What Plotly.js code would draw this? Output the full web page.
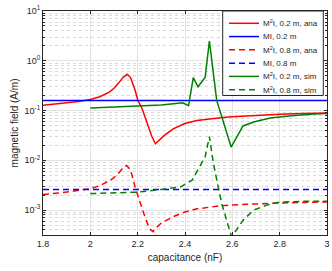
<!DOCTYPE html>
<html>
<head>
<meta charset="utf-8">
<script src="https://cdn.plot.ly/plotly-3.0.1.min.js"></script>
<style>
html,body{margin:0;padding:0;background:#fff;}
#chart{width:332px;height:271px;}
</style>
</head>
<body>
<div id="chart"></div>
<script>
// ---- data ----
const redSolidX = [1.8, 1.85, 1.9, 1.95, 2.0, 2.04, 2.08, 2.1, 2.12, 2.14, 2.156, 2.17, 2.19, 2.2, 2.22, 2.24, 2.26, 2.275, 2.29, 2.31, 2.35, 2.4, 2.45, 2.5, 2.55, 2.6, 2.7, 2.8, 2.9, 3.0];
const redSolidY = [0.128, 0.134, 0.142, 0.152, 0.167, 0.19, 0.235, 0.28, 0.36, 0.47, 0.535, 0.46, 0.25, 0.165, 0.105, 0.058, 0.03, 0.0215, 0.025, 0.031, 0.043, 0.055, 0.063, 0.068, 0.072, 0.075, 0.080, 0.084, 0.087, 0.089];

const redDashX = [1.8, 1.9, 2.0, 2.04, 2.08, 2.1, 2.12, 2.14, 2.153, 2.17, 2.19, 2.21, 2.23, 2.25, 2.265, 2.28, 2.3, 2.35, 2.4, 2.45, 2.5, 2.55, 2.6, 2.7, 2.8, 2.9, 3.0];
const redDashY = [0.00205, 0.0023, 0.0027, 0.0031, 0.0039, 0.0045, 0.0056, 0.0072, 0.0079, 0.0065, 0.0028, 0.0014, 0.00075, 0.00042, 0.00037, 0.00045, 0.00055, 0.00074, 0.00092, 0.00106, 0.00115, 0.00122, 0.00127, 0.00134, 0.00139, 0.00143, 0.00146];

const blueX = [1.8, 3.0];
const blueSolidY = [0.16, 0.16];
const blueDashY = [0.0026, 0.0026];

const greenSolidX = [2.0, 2.1, 2.2, 2.3, 2.39, 2.415, 2.435, 2.455, 2.485, 2.503, 2.534, 2.595, 2.645, 2.69, 2.76, 2.85, 2.95, 3.0];
const greenSolidY = [0.112, 0.117, 0.123, 0.13, 0.143, 0.125, 0.46, 0.30, 0.46, 2.5, 0.16, 0.0185, 0.049, 0.059, 0.071, 0.079, 0.085, 0.087];

const greenDashX = [2.0, 2.1, 2.2, 2.3, 2.38, 2.43, 2.485, 2.503, 2.52, 2.555, 2.597, 2.646, 2.69, 2.745, 2.8, 2.9, 3.0];
const greenDashY = [0.00215, 0.0022, 0.0023, 0.0026, 0.0029, 0.004, 0.0117, 0.03, 0.0087, 0.00135, 0.00029, 0.00063, 0.001, 0.00126, 0.00145, 0.0015, 0.0015];

const seriesNames = ['M<sup>2</sup>I, 0.2 m, ana', 'MI, 0.2 m', 'M<sup>2</sup>I, 0.8 m, ana', 'MI, 0.8 m', 'M<sup>2</sup>I, 0.2 m, sim', 'M<sup>2</sup>I, 0.8 m, sim'];
const seriesColors = ['#ff0000', '#0000ff', '#ff0000', '#0000ff', '#008000', '#008000'];
const seriesDash = ['solid', 'solid', '6px,4px', '6px,4px', 'solid', '6px,4px'];

const yTickVals = [10, 1, 0.1, 0.01, 0.001];
const yTickText = ['10<sup>1</sup>', '10<sup>0</sup>', '10<sup>-1</sup>', '10<sup>-2</sup>', '10<sup>-3</sup>'];

// ---- chart ----
const xs = [redSolidX, blueX, redDashX, blueX, greenSolidX, greenDashX];
const ys = [redSolidY, blueSolidY, redDashY, blueDashY, greenSolidY, greenDashY];

const traces = xs.map((x, i) => ({
  x: x, y: ys[i], type: 'scatter', mode: 'lines', name: seriesNames[i],
  line: {color: seriesColors[i], width: 1.5, dash: seriesDash[i]},
  showlegend: false, hoverinfo: 'skip'
}));

const txt = '#262626';
const font = 'Liberation Sans, Arial, Helvetica, sans-serif';

// custom legend box (paper coords)
const shapes = [];
const annotations = [];
const plotL = 43, plotR = 327, plotT = 10.7, plotB = 235;
const pw = plotR - plotL, ph = plotB - plotT;
const px = v => (v - plotL) / pw;
const py = v => (plotB - v) / ph;
shapes.push({type: 'rect', xref: 'paper', yref: 'paper', x0: px(222.7), x1: px(323.3), y0: py(95.3), y1: py(10.7),
  line: {color: txt, width: 1}, fillcolor: '#ffffff', layer: 'above'});
seriesNames.forEach((n, i) => {
  const yc = 23 + i * 13.3;
  shapes.push({type: 'line', xref: 'paper', yref: 'paper', x0: px(229), x1: px(259), y0: py(yc), y1: py(yc),
    line: {color: seriesColors[i], width: 1.5, dash: seriesDash[i]}, layer: 'above'});
  annotations.push({xref: 'paper', yref: 'paper', x: px(261), y: py(yc), xanchor: 'left', yanchor: 'middle',
    text: n, showarrow: false, font: {size: 8, color: txt, family: font}});
});

const layout = {
  width: 332, height: 271,
  margin: {l: 43, r: 5, t: 10.7, b: 36},
  paper_bgcolor: '#ffffff', plot_bgcolor: '#ffffff',
  font: {family: font, size: 9, color: txt},
  showlegend: false,
  xaxis: {
    range: [1.8, 3], dtick: 0.2, tick0: 1.8,
    showline: true, linecolor: txt, linewidth: 1, mirror: 'ticks',
    ticks: 'inside', ticklen: 3, tickcolor: txt,
    showgrid: true, gridcolor: '#e3e3e3', gridwidth: 1, zeroline: false,
    title: {text: 'capacitance (nF)', font: {size: 10, color: txt}, standoff: 6},
    tickfont: {size: 9, color: txt}
  },
  yaxis: {
    type: 'log', range: [-3.5, 1],
    tickmode: 'array', tickvals: yTickVals, ticktext: yTickText,
    showline: true, linecolor: txt, linewidth: 1, mirror: 'ticks',
    ticks: 'inside', ticklen: 3, tickcolor: txt,
    showgrid: true, gridcolor: '#e3e3e3', gridwidth: 1, zeroline: false,
    minor: {tickmode: 'linear', tick0: 0, dtick: 'D1', showgrid: true, gridcolor: '#d9d9d9', griddash: 'dot', ticks: 'inside', ticklen: 2, tickcolor: txt},
    title: {text: 'magnetic field (A/m)', font: {size: 10, color: txt}, standoff: 4},
    tickfont: {size: 9, color: txt}
  },
  shapes: shapes,
  annotations: annotations
};

Plotly.newPlot('chart', traces, layout, {displayModeBar: false, staticPlot: true});
</script>
</body>
</html>
